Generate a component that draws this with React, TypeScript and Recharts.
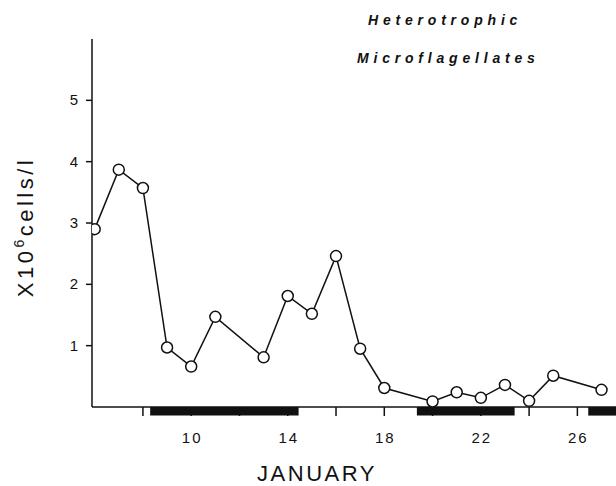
import React from 'react';
import { LineChart, Line, XAxis, YAxis, ReferenceArea } from 'recharts';

// sampling days in January and cell counts (x10^6 cells/l)
const DAYS = [6, 7, 8, 9, 10, 11, 13, 14, 15, 16, 17, 18, 20, 21, 22, 23, 24, 25, 27];
const CELLS = [2.9, 3.87, 3.57, 0.97, 0.66, 1.47, 0.81, 1.81, 1.52, 2.46, 0.95, 0.31, 0.09, 0.24, 0.15, 0.36, 0.1, 0.51, 0.28];

const X_TICKS = [8, 10, 12, 14, 16, 18, 20, 22, 24, 26];
const X_LABELS = [10, 14, 18, 22, 26];
const Y_TICKS = [1, 2, 3, 4, 5];

// dark bars under the axis: [start day, end day]
const DARK_STARTS = [8.3, 19.35, 26.45];
const DARK_ENDS = [14.45, 23.4, 27.6];

const data = DAYS.map((day, i) => ({ day, cells: CELLS[i] }));

const FONT = '"Liberation Sans", Arial, Helvetica, sans-serif';
const INK = '#111';

const XTick = (props: any) => {
  const { x, y, payload } = props;
  if (!X_LABELS.includes(payload.value)) return <g />;
  return (
    <text x={x + 1} y={y} dy={25} textAnchor="middle" fontSize={15} fill={INK} fontFamily={FONT} letterSpacing={2}>
      {payload.value}
    </text>
  );
};

const YTick = (props: any) => {
  const { x, y, payload } = props;
  return (
    <text x={x - 6} y={y} dy={5} textAnchor="end" fontSize={15} fill={INK} fontFamily={FONT}>
      {payload.value}
    </text>
  );
};

const App: React.FC = () => {
  return (
    <div style={{ position: 'absolute', left: 0, top: 0, width: 616, height: 486, background: '#fff' }}>
      <LineChart width={616} height={486} data={data} margin={{ top: 39, right: 0, left: 0, bottom: 0 }}>
        <XAxis
          type="number"
          dataKey="day"
          domain={[5.89, 27.6]}
          ticks={X_TICKS}
          allowDataOverflow
          height={79}
          tickSize={9}
          stroke={INK}
          strokeWidth={1.5}
          tick={<XTick />}
        />
        <YAxis
          type="number"
          domain={[0, 6]}
          ticks={Y_TICKS}
          width={92}
          tickSize={6}
          stroke={INK}
          strokeWidth={1.5}
          tick={<YTick />}
        />
        {DARK_STARTS.map((start, i) => (
          <ReferenceArea
            key={`dark-${i}`}
            x1={start}
            x2={DARK_ENDS[i]}
            y1={-0.14}
            y2={0}
            ifOverflow="visible"
            fill={INK}
            fillOpacity={1}
            stroke="none"
          />
        ))}
        <Line
          type="linear"
          dataKey="cells"
          stroke={INK}
          strokeWidth={1.5}
          dot={{ r: 5.5, fill: '#fff', stroke: INK, strokeWidth: 1.5 }}
          isAnimationActive={false}
        />
      </LineChart>
      <svg width={616} height={486} style={{ position: 'absolute', left: 0, top: 0, pointerEvents: 'none' }}>
        <text x={368} y={25} fontSize={14} fontWeight="bold" fontStyle="italic" letterSpacing={4.8} fill={INK} fontFamily={FONT}>
          Heterotrophic
        </text>
        <text x={357} y={63} fontSize={14} fontWeight="bold" fontStyle="italic" letterSpacing={4.8} fill={INK} fontFamily={FONT}>
          Microflagellates
        </text>
        <text x={317} y={481} textAnchor="middle" fontSize={22} letterSpacing={2.5} fill={INK} fontFamily={FONT}>
          JANUARY
        </text>
        <text transform="translate(33,227) rotate(-90)" textAnchor="middle" fontSize={22} letterSpacing={3.5} fill={INK} fontFamily={FONT}>
          X10
          <tspan dy={-9} fontSize={14}>6</tspan>
          <tspan dy={9}>cells/l</tspan>
        </text>
      </svg>
    </div>
  );
};

export default App;
